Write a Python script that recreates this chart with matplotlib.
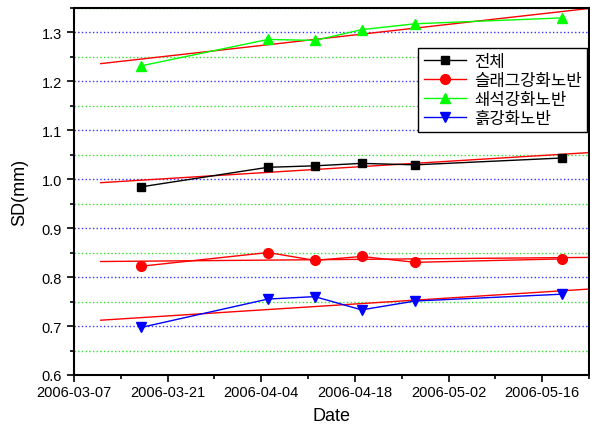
import numpy as np
import pandas as pd
import matplotlib
matplotlib.use('Agg')
import matplotlib.pyplot as plt
import matplotlib.dates as mdates
from matplotlib.ticker import MultipleLocator

plt.rcParams['font.family'] = ['Liberation Sans', 'Noto Sans CJK KR', 'DejaVu Sans']

# data
dates = pd.to_datetime(['2006-03-17', '2006-04-05', '2006-04-12',
                        '2006-04-19', '2006-04-27', '2006-05-19'])
total = [0.984, 1.024, 1.027, 1.032, 1.029, 1.043]
slag = [0.822, 0.850, 0.834, 0.842, 0.830, 0.837]
crushed = [1.231, 1.285, 1.283, 1.305, 1.317, 1.329]
soil = [0.697, 0.755, 0.760, 0.733, 0.751, 0.765]
labels = ['전체', '슬래그강화노반', '쇄석강화노반', '흙강화노반']

fit_start = pd.Timestamp('2006-03-11')
fit_end = pd.Timestamp('2006-05-25')

fig = plt.figure(figsize=(5.9, 4.27), dpi=100)
ax = fig.add_axes([74/590, 1 - 376/427, 515/590, (376 - 8.6)/427])

series = [(total, 'black', 's', 6), (slag, 'red', 'o', 7),
          (crushed, '#00ff00', '^', 7.5), (soil, 'blue', 'v', 7.5)]

xnum = mdates.date2num(dates)
for (vals, col, mk, ms), lab in zip(series, labels):
    ax.plot(dates, vals, color=col, marker=mk, markersize=ms, lw=1,
            markeredgecolor=col, label=lab, zorder=3)
    # linear fit
    p = np.polyfit(xnum, vals, 1)
    fx = np.array([mdates.date2num(fit_start), mdates.date2num(fit_end)])
    ax.plot(mdates.num2date(fx), np.polyval(p, fx), color='red', lw=1, zorder=2)

ax.set_xlim(pd.Timestamp('2006-03-07'), pd.Timestamp('2006-05-23'))
ax.set_ylim(0.6, 1.35)

ax.set_xticks(pd.date_range('2006-03-07', periods=6, freq='14D'))
ax.set_xticks(pd.date_range('2006-03-07', '2006-05-23', freq='7D'), minor=True)
ax.xaxis.set_major_formatter(mdates.DateFormatter('%Y-%m-%d'))
ax.yaxis.set_major_locator(MultipleLocator(0.1))
ax.yaxis.set_minor_locator(MultipleLocator(0.05))

ax.grid(which='major', axis='y', color='blue', ls=':', lw=1, alpha=0.8)
ax.grid(which='minor', axis='y', color='#00dd00', ls=':', lw=1, alpha=0.8)

ax.tick_params(which='major', direction='out', length=5, width=1.2, labelsize=10.5)
ax.tick_params(axis='x', which='major', pad=2)
ax.tick_params(which='minor', direction='out', length=3, width=1.2)
ax.tick_params(top=False, right=False, which='both')
for s in ax.spines.values():
    s.set_linewidth(1.5)

ax.set_xlabel('Date', fontsize=13, labelpad=6)
ax.set_ylabel('SD(mm)', fontsize=13, labelpad=10)

leg = ax.legend(loc='upper right', bbox_to_anchor=(1.0, 0.895), fontsize=12,
                fancybox=False, edgecolor='black', framealpha=1,
                handlelength=2.5, borderpad=0.35, labelspacing=0.25,
                handletextpad=0.5, borderaxespad=0.1)
leg.get_frame().set_linewidth(1)

fig.savefig('out.png', dpi=100)
